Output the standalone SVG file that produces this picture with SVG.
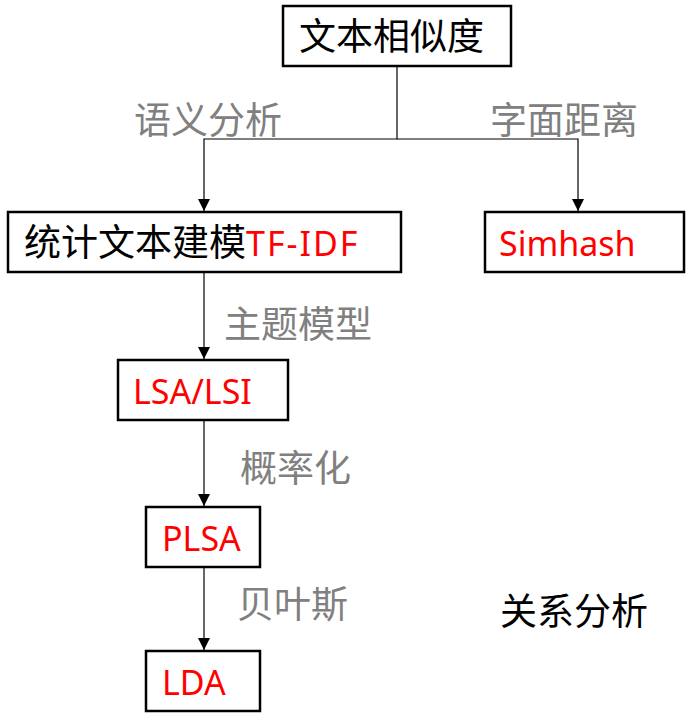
<svg xmlns="http://www.w3.org/2000/svg" width="696" height="726" viewBox="0 0 696 726">
<style>
.box{fill:#fff;stroke:#000;stroke-width:2.5}
.t{font-family:"Noto Sans","Noto Sans CJK SC",sans-serif;font-size:34px}
.cjk{font-family:"Noto Sans CJK SC",sans-serif;font-size:37px}
.blk{fill:#000}
.red{fill:#ff0000}
.lbl{font-family:"Noto Sans CJK SC",sans-serif;font-size:37px;fill:#808080}
.ln{fill:none;stroke:#000;stroke-width:1.2}
</style>
<defs>
<marker id="arr" viewBox="0 0 10 10" refX="10" refY="5" markerWidth="12" markerHeight="12" markerUnits="userSpaceOnUse" orient="auto">
<path d="M0,0 L10,5 L0,10 z" fill="#000"/>
</marker>
</defs>
<rect width="696" height="726" fill="#fff"/>
<g id="connectors">
<path class="ln" d="M397,66 V139 H204 V211" marker-end="url(#arr)"/>
<path class="ln" d="M397,139 H578 V211" marker-end="url(#arr)"/>
<path class="ln" d="M204,272 V359" marker-end="url(#arr)"/>
<path class="ln" d="M204,420 V506" marker-end="url(#arr)"/>
<path class="ln" d="M204,567 V650" marker-end="url(#arr)"/>
</g>
<g id="labels">
<text class="lbl" x="134" y="134">语义分析</text>
<text class="lbl" x="490" y="134">字面距离</text>
<text class="lbl" x="224" y="338">主题模型</text>
<text class="lbl" x="240" y="482">概率化</text>
<text class="lbl" x="237" y="618">贝叶斯</text>
<text class="lbl" x="500" y="625" style="fill:#000">关系分析</text>
</g>
<g id="n-root">
<rect class="box" x="283" y="6" width="228" height="60"/>
<text class="cjk blk" x="299" y="50">文本相似度</text>
</g>
<g id="n-tfidf">
<rect class="box" x="8" y="212" width="393" height="60"/>
<text class="t" x="24" y="256"><tspan class="blk cjk">统计文本建模</tspan><tspan class="red" letter-spacing="2">TF-IDF</tspan></text>
</g>
<g id="n-simhash">
<rect class="box" x="485" y="212" width="199" height="60"/>
<text class="t red" x="499" y="256">Simhash</text>
</g>
<g id="n-lsa">
<rect class="box" x="118" y="360" width="170" height="60"/>
<text class="t red" x="133" y="404">LSA/LSI</text>
</g>
<g id="n-plsa">
<rect class="box" x="146" y="507" width="114" height="60"/>
<text class="t red" x="162" y="551">PLSA</text>
</g>
<g id="n-lda">
<rect class="box" x="146" y="651" width="114" height="60"/>
<text class="t red" x="162" y="695">LDA</text>
</g>
</svg>
